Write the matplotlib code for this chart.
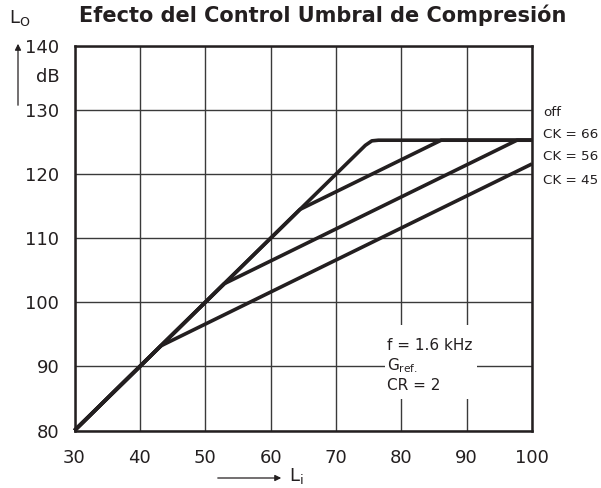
import numpy as np
import matplotlib.pyplot as plt
from matplotlib.patches import Rectangle

# input level Li (dB) and output level Lo (dB) for each curve
li_off = [30, 74.5, 75.5, 76.5, 100]
lo_off = [80, 124.5, 125.2, 125.3, 125.3]
li_66 = [30, 64.5, 86.1, 100]
lo_66 = [80, 114.5, 125.3, 125.3]
li_56 = [30, 52.9, 97.7, 100]
lo_56 = [80, 102.9, 125.3, 125.3]
li_45 = [30, 43.2, 100]
lo_45 = [80, 93.2, 121.6]

curve_labels = ['off', 'CK = 66', 'CK = 56', 'CK = 45']
x_ticks = [30, 40, 50, 60, 70, 80, 90, 100]
y_ticks = [80, 90, 100, 110, 120, 130, 140]

W, H = 601, 488
fig = plt.figure(figsize=(W / 100, H / 100), dpi=100)
ax = fig.add_axes([74.5 / W, 1 - 430.5 / H, (532 - 74.5) / W, (430.5 - 46) / H])

ink = '#231f20'
for xs, ys in [(li_off, lo_off), (li_66, lo_66), (li_56, lo_56), (li_45, lo_45)]:
    ax.plot(xs, ys, color=ink, lw=2.6, solid_joinstyle='round',
            solid_capstyle='butt', zorder=3, clip_on=False)

ax.set_xlim(30, 100)
ax.set_ylim(80, 140)
ax.set_xticks(x_ticks)
ax.set_yticks(y_ticks)
ax.grid(True, color='#3a3a3a', lw=1.0)
ax.set_axisbelow(True)
ax.tick_params(length=0, labelsize=13, colors=ink)
ax.tick_params(axis='x', pad=13)
ax.tick_params(axis='y', pad=11)
for s in ax.spines.values():
    s.set_linewidth(1.8)
    s.set_color(ink)

# curve labels at the right
label_y = [112, 134, 157, 180]
for lab, yp in zip(curve_labels, label_y):
    fig.text(543 / W, 1 - yp / H, lab, fontsize=9.7, color=ink, va='center', ha='left')

# annotation with white background that breaks the grid
ax.add_patch(Rectangle((77.5, 84.9), 14.1, 11.6, facecolor='white',
                       edgecolor='none', zorder=2))
ax.text(77.8, 94.5, 'f = 1.6 kHz\nG$_{\\mathregular{ref.}}$\nCR = 2', fontsize=11,
        color=ink, va='top', ha='left', linespacing=1.25, zorder=4)

# title
fig.text(323 / W, 1 - 15 / H, 'Efecto del Control Umbral de Compresión',
         fontsize=15, fontweight='bold', color=ink, ha='center', va='center')

# y-axis label with arrow
fig.text(9 / W, 1 - 18 / H, 'L$_{\\mathregular{O}}$', fontsize=13, color=ink,
         ha='left', va='center')
fig.text(60 / W, 1 - 77 / H, 'dB', fontsize=13, color=ink, ha='right', va='center')
fig.add_artist(plt.Annotation('', xy=(18 / W, 1 - 41 / H), xytext=(18 / W, 1 - 108 / H),
               xycoords='figure fraction', textcoords='figure fraction',
               arrowprops=dict(arrowstyle='-|>', color=ink, lw=0.9, mutation_scale=9)))

# x-axis label with arrow
fig.add_artist(plt.Annotation('', xy=(284 / W, 1 - 478 / H), xytext=(215 / W, 1 - 478 / H),
               xycoords='figure fraction', textcoords='figure fraction',
               arrowprops=dict(arrowstyle='-|>', color=ink, lw=0.9, mutation_scale=9)))
fig.text(289 / W, 1 - 476 / H, 'L$_{\\mathregular{i}}$', fontsize=13, color=ink,
         ha='left', va='center')

fig.savefig('out.png', dpi=100, facecolor='white')
